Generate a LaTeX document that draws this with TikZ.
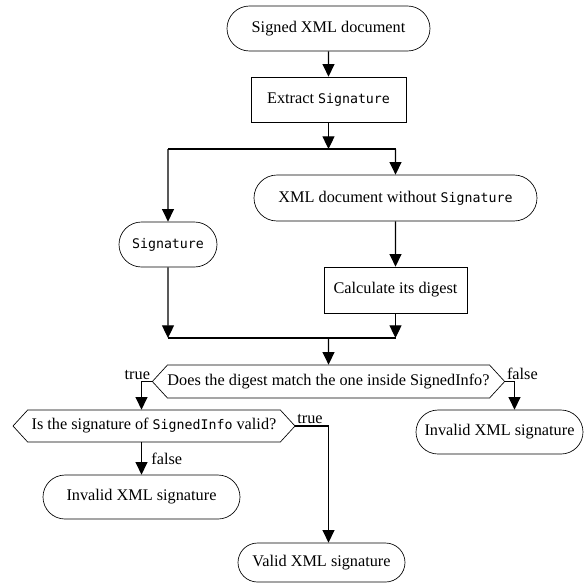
\documentclass[tikz,border=0pt]{standalone}
\usepackage{fontspec}
\setmainfont{Liberation Serif}
\newfontfamily\codefont[Scale=0.815]{DejaVu Sans Mono}
\newcommand{\code}[1]{{\codefont #1}}
\usetikzlibrary{arrows.meta,shapes.misc,shapes.symbols}

\tikzset{every picture/.style={line width=0.75pt}}
\tikzset{
	terminal/.style={rounded rectangle, draw, line width=0.5pt, inner sep=0pt, font=\fontsize{12.2}{14}\selectfont},
	process/.style={rectangle, draw, line width=0.5pt, inner sep=0pt, font=\fontsize{12.2}{14}\selectfont},
	decision/.style={signal, signal to=west and east, signal pointer angle=95, draw, line width=0.5pt, inner sep=0pt, font=\fontsize{12.2}{14}\selectfont},
	arr/.style={-{Triangle[length=9.5pt,width=9pt]}, line width=0.85pt},
	bar/.style={line width=1.6pt},
	lbl/.style={inner sep=1pt, font=\fontsize{12.2}{14}\selectfont}
}

\begin{document}
\begin{tikzpicture}[x=0.75pt,y=0.75pt,yscale=-1,xscale=1]
	\path[use as bounding box] (0,0) rectangle (584,583);

	% Text Node
	\node[terminal, minimum width=152.25pt, minimum height=33.75pt] (start) at (328.5,28.5) {Signed XML document};
	% Text Node
	\node[process, minimum width=116.25pt, minimum height=33.75pt] (extract) at (328.5,99.5) {Extract \code{Signature}};
	% Text Node
	\node[terminal, minimum width=212.25pt, minimum height=34.5pt] (nosig) at (395.5,198) {XML document without \code{Signature}};
	% Text Node
	\node[terminal, minimum width=73.5pt, minimum height=33.75pt] (sig) at (168,244.5) {\code{Signature}};
	% Text Node
	\node[process, minimum width=107.25pt, minimum height=34.5pt] (digest) at (395.5,290) {Calculate its digest};
	% Text Node
	\node[decision, minimum width=260.25pt, minimum height=24.75pt] (match) at (328.5,381.5) {Does the digest match the one inside SignedInfo?};
	% Text Node
	\node[decision, minimum width=211.5pt, minimum height=24pt] (check) at (154,426) {Is the signature of \code{SignedInfo} valid?};
	% Text Node
	\node[terminal, minimum width=147.75pt, minimum height=33pt] (inv1) at (141.5,497) {Invalid XML signature};
	% Text Node
	\node[terminal, minimum width=125.25pt, minimum height=33pt] (inv2) at (499.5,432) {Invalid XML signature};
	% Text Node
	\node[terminal, minimum width=125.25pt, minimum height=29.25pt] (valid) at (321.5,562.5) {Valid XML signature};

	% Fork and join bars
	\coordinate (forkl) at (168,149);
	\coordinate (forkr) at (395.5,149);
	\coordinate (joinl) at (168,338);
	\coordinate (joinr) at (395.5,338);
	\draw [bar] (forkl) -- (forkr);
	\draw [bar] (joinl) -- (joinr);

	% Connection
	\draw [arr] (start) -- (extract);
	\draw [arr] (extract) -- (extract |- forkl);
	\draw [arr] (forkl) -- (sig);
	\draw [arr] (forkr) -- (nosig);
	\draw [arr] (nosig) -- (digest);
	\draw [arr] (sig) -- (sig |- joinl);
	\draw [arr] (digest) -- (digest |- joinr);
	\draw [arr] (match |- joinl) -- (match);
	% Connection
	\draw [arr] (match.west) node [lbl, anchor=south east] {true} -| (check.north -| inv1.north);
	\draw [arr] (match.east) node [lbl, anchor=south west] {false} -| ([xshift=11.25pt]inv2.north);
	\draw [arr] (check.south -| inv1.north) -- node [lbl, right=6pt] {false} (inv1.north);
	\draw [arr] (check.east) node [lbl, anchor=south west] {true} -| (valid.north -| match.south);

\end{tikzpicture}
\end{document}
